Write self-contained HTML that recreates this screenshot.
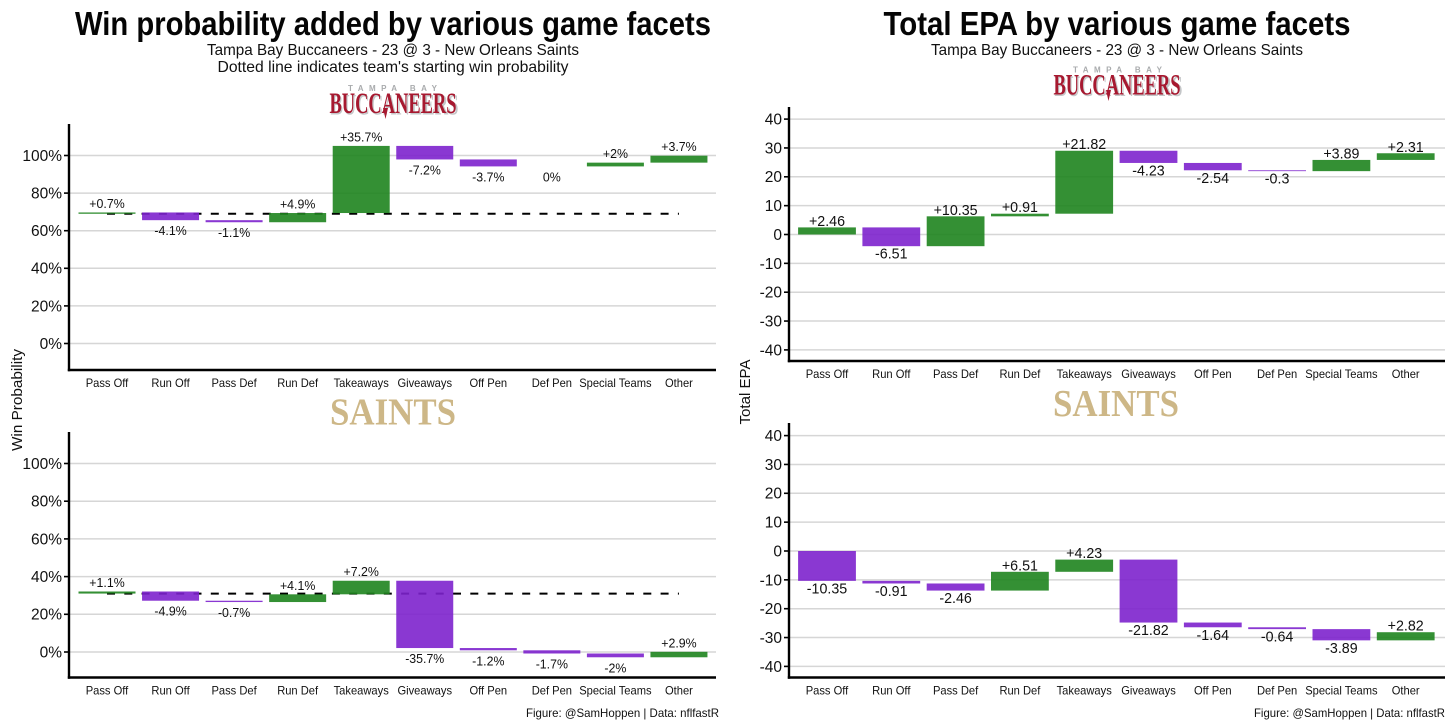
<!DOCTYPE html>
<html lang="en">
<head>
<meta charset="utf-8">
<title>Win probability and EPA by game facets</title>
<style>
html,body{margin:0;padding:0;background:#fff;width:1456px;height:728px;overflow:hidden}
svg{display:block;font-family:"Liberation Sans",sans-serif}
text{fill:#111}
</style>
</head>
<body>
<svg id="fig" xmlns="http://www.w3.org/2000/svg" width="1456" height="728" viewBox="0 0 1456 728">
<rect width="1456" height="728" fill="#fff"/>
<text x="393" y="35" text-anchor="middle" font-size="33" font-weight="700" textLength="636" lengthAdjust="spacingAndGlyphs" style="fill:#050505">Win probability added by various game facets</text>
<text x="393" y="55" text-anchor="middle" font-size="16" textLength="372" lengthAdjust="spacingAndGlyphs">Tampa Bay Buccaneers - 23 @ 3 - New Orleans Saints</text>
<text x="393" y="72" text-anchor="middle" font-size="16" textLength="351" lengthAdjust="spacingAndGlyphs">Dotted line indicates team's starting win probability</text>
<text x="1117" y="35" text-anchor="middle" font-size="33" font-weight="700" textLength="467" lengthAdjust="spacingAndGlyphs" style="fill:#050505">Total EPA by various game facets</text>
<text x="1117" y="55" text-anchor="middle" font-size="16" textLength="372" lengthAdjust="spacingAndGlyphs">Tampa Bay Buccaneers - 23 @ 3 - New Orleans Saints</text>

<g>
<text x="392.5" y="91" text-anchor="middle" font-size="8" font-weight="700" textLength="89" style="fill:#a9abad">TAMPA BAY</text>
<text x="394.5" y="114.5" text-anchor="middle" font-family="Liberation Serif" font-size="30" font-weight="700" textLength="128" lengthAdjust="spacingAndGlyphs" style="fill:#c4c6c8">BUCCANEERS</text>
<text x="393" y="113" text-anchor="middle" font-family="Liberation Serif" font-size="30" font-weight="700" textLength="127" lengthAdjust="spacingAndGlyphs" style="fill:#a71930">BUCCANEERS</text>
<path d="M383 108 L388 108 L385.5 119 Z" fill="#a71930"/>
</g>
<g>
<text x="393" y="424.5" text-anchor="middle" font-family="Liberation Serif" font-size="38" font-weight="700" textLength="126" lengthAdjust="spacingAndGlyphs" style="fill:#cdb787">SAINTS</text>
</g>
<g>
<text x="1117.5" y="72.5" text-anchor="middle" font-size="8" font-weight="700" textLength="89" style="fill:#a9abad">TAMPA BAY</text>
<text x="1118.5" y="96" text-anchor="middle" font-family="Liberation Serif" font-size="30" font-weight="700" textLength="128" lengthAdjust="spacingAndGlyphs" style="fill:#c4c6c8">BUCCANEERS</text>
<text x="1117" y="94.5" text-anchor="middle" font-family="Liberation Serif" font-size="30" font-weight="700" textLength="127" lengthAdjust="spacingAndGlyphs" style="fill:#a71930">BUCCANEERS</text>
<path d="M1106 90 L1111 90 L1108.5 101 Z" fill="#a71930"/>
</g>
<g>
<text x="1116" y="416" text-anchor="middle" font-family="Liberation Serif" font-size="38" font-weight="700" textLength="126" lengthAdjust="spacingAndGlyphs" style="fill:#cdb787">SAINTS</text>
</g>

<text transform="translate(22,400) rotate(-90)" text-anchor="middle" font-size="15" textLength="102" lengthAdjust="spacingAndGlyphs">Win Probability</text>
<text transform="translate(750,392) rotate(-90)" text-anchor="middle" font-size="15" textLength="65" lengthAdjust="spacingAndGlyphs">Total EPA</text>
<text x="719" y="717" text-anchor="end" font-size="12" textLength="193" lengthAdjust="spacingAndGlyphs">Figure: @SamHoppen | Data: nflfastR</text>
<text x="1445" y="717" text-anchor="end" font-size="12" textLength="191" lengthAdjust="spacingAndGlyphs">Figure: @SamHoppen | Data: nflfastR</text>
</svg>
<script>
const categories = ['Pass Off','Run Off','Pass Def','Run Def','Takeaways','Giveaways','Off Pen','Def Pen','Special Teams','Other'];
const wpTicks = [0,20,40,60,80,100];
const epaTicks = [-40,-30,-20,-10,0,10,20,30,40];
const bucsStartWp = 69;
const saintsStartWp = 31;
const bucsWpValues = [0.7,-4.1,-1.1,4.9,35.7,-7.2,-3.7,0,2,3.7];
const saintsWpValues = [1.1,-4.9,-0.7,4.1,7.2,-35.7,-1.2,-1.7,-2,2.9];
const bucsEpaValues = [2.46,-6.51,10.35,0.91,21.82,-4.23,-2.54,-0.3,3.89,2.31];
const saintsEpaValues = [-10.35,-0.91,-2.46,6.51,4.23,-21.82,-1.64,-0.64,-3.89,2.82];

const NS = 'http://www.w3.org/2000/svg';
const fig = document.getElementById('fig');
const GREEN = '#1e841e', PURPLE = '#7d22cd';

function mk(parent, tag, attrs, txt){
  const el = document.createElementNS(NS, tag);
  for (const k in attrs) el.setAttribute(k, attrs[k]);
  if (txt !== undefined) el.textContent = txt;
  parent.appendChild(el);
  return el;
}
function squeeze(el, f){
  const len = el.getComputedTextLength();
  el.setAttribute('textLength', (len * f).toFixed(1));
  el.setAttribute('lengthAdjust', 'spacingAndGlyphs');
}

function drawPanel(p){
  const y = v => p.y0 - v * p.yUnit;
  const x = i => p.xFirst + i * p.xStep;
  const g = mk(fig, 'g', {});
  
  

  p.ticks.forEach(t => {
    const grid = mk(g, 'line', {x1:p.axisX, x2:p.right, y1:y(t), y2:y(t), stroke:'#d6d6d6', 'stroke-width':1.5});
    
    
    const tick = mk(g, 'line', {x1:p.axisX-5, x2:p.axisX, y1:y(t), y2:y(t), stroke:'#000', 'stroke-width':1.6});
    
    
    const lab = mk(g, 'text', {x:p.axisX-7, y:y(t)+5.4, 'text-anchor':'end', 'font-size':15.5}, t + p.tickSuffix);
    
    
  });

  if (p.dashed){
    const line = mk(g, 'line', {x1:p.xFirst, x2:p.xFirst + (categories.length-1)*p.xStep, y1:y(p.start), y2:y(p.start), stroke:'#000', 'stroke-width':2, 'stroke-dasharray':'8 9.3'});
    
    
  }

  let cum = p.start;
  const tops = [];
  p.values.forEach((v, i) => {
    const a = cum, b = cum + v;
    cum = b;
    const hi = Math.max(a, b), lo = Math.min(a, b);
    const h = Math.max((hi - lo) * p.yUnit, 0);
    const c = v > 0 ? GREEN : PURPLE;
    if (v !== 0){
      const bar = mk(g, 'rect', {x:x(i)-p.barW/2, y:y(hi), width:p.barW, height:h, fill:c, 'fill-opacity':0.9});
      
      
    }
    tops.push({i, v, hi, lo});
  });

  tops.forEach(d => {
    const pos = d.v > 0;
    const s = (pos ? '+' : '') + d.v + p.valueSuffix;
    const yy = pos ? y(d.hi) - p.labelUp : y(d.lo) + p.labelDown;
    const lab = mk(g, 'text', {x:x(d.i), y:yy, 'text-anchor':'middle', 'font-size':p.labelSize}, s);
    
    
    squeeze(lab, 0.95);
  });

  categories.forEach((c, i) => {
    const lab = mk(g, 'text', {x:x(i), y:p.axisY+17, 'text-anchor':'middle', 'font-size':12}, c);
    
    
    squeeze(lab, 0.93);
  });

  const yAxis = mk(g, 'line', {x1:p.axisX, x2:p.axisX, y1:p.axisTop, y2:p.axisY+1.2, stroke:'#000', 'stroke-width':2.4});
  
  
  const xAxis = mk(g, 'line', {x1:p.axisX-1.2, x2:p.right, y1:p.axisY, y2:p.axisY, stroke:'#000', 'stroke-width':2.4});
  
  
}

drawPanel({name:'buccaneers-win-probability-panel', values:bucsWpValues, start:bucsStartWp, ticks:wpTicks, tickSuffix:'%', valueSuffix:'%', dashed:true,
  y0:343.5, yUnit:1.88, axisX:69, axisY:370, axisTop:124, right:716, xFirst:107, xStep:63.55, barW:57, labelUp:4.5, labelDown:15, labelSize:13});
drawPanel({name:'saints-win-probability-panel', values:saintsWpValues, start:saintsStartWp, ticks:wpTicks, tickSuffix:'%', valueSuffix:'%', dashed:true,
  y0:652, yUnit:1.885, axisX:69, axisY:677.5, axisTop:432, right:716, xFirst:107, xStep:63.55, barW:57, labelUp:4.5, labelDown:15, labelSize:13});
drawPanel({name:'buccaneers-epa-panel', values:bucsEpaValues, start:0, ticks:epaTicks, tickSuffix:'', valueSuffix:'', dashed:false,
  y0:234.5, yUnit:2.885, axisX:789, axisY:361, axisTop:107, right:1445, xFirst:827, xStep:64.3, barW:57.8, labelUp:1.5, labelDown:12.5, labelSize:15});
drawPanel({name:'saints-epa-panel', values:saintsEpaValues, start:0, ticks:epaTicks, tickSuffix:'', valueSuffix:'', dashed:false,
  y0:551, yUnit:2.885, axisX:789, axisY:677.5, axisTop:423, right:1445, xFirst:827, xStep:64.3, barW:57.8, labelUp:1.5, labelDown:12.5, labelSize:15});
</script>
</body>
</html>
